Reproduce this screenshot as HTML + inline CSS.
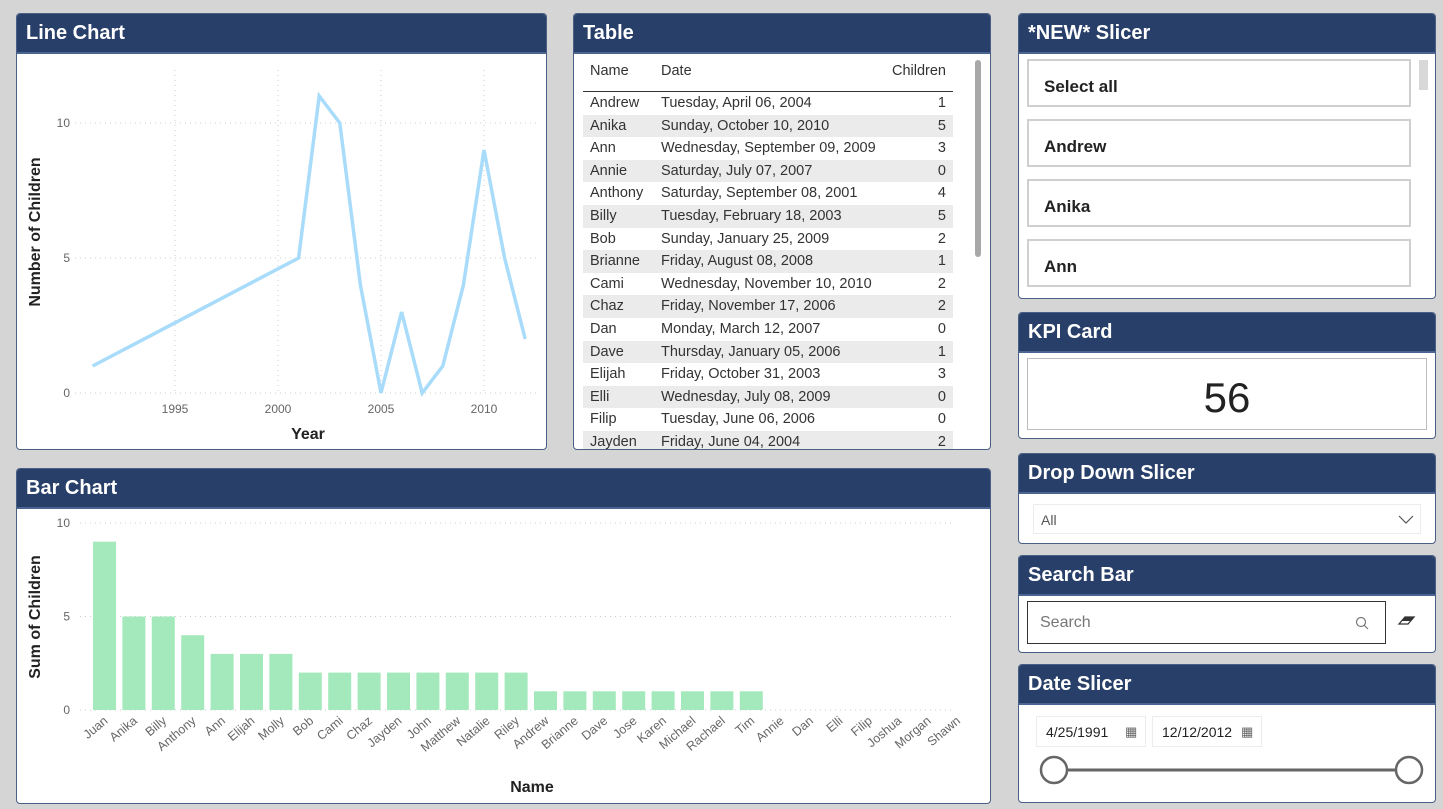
<!DOCTYPE html>
<html><head><meta charset="utf-8"><style>
body{margin:0;width:1443px;height:809px;background:#d5d5d5;font-family:"Liberation Sans",sans-serif;position:relative;overflow:hidden}
.panel{position:absolute;background:#fff;border:1px solid #4a5f85;border-radius:4px;overflow:hidden;box-sizing:border-box}
.hdr{height:38px;background:#283f69;color:#fff;font-weight:bold;font-size:20px;line-height:38px;padding-left:9px;border-bottom:2px solid #4a6592}
.abs{position:absolute}
.tbl{position:absolute;left:9px;top:40px;width:370px;font-size:14.5px;color:#333}
.row{height:22.6px;line-height:22.6px;position:relative}
.row.alt{background:#ebebeb}
.row span{position:absolute;white-space:nowrap}
.item{position:absolute;left:8px;width:384px;height:48px;border:2px solid #cfcfcf;box-sizing:border-box;font-weight:bold;font-size:17px;line-height:52px;padding-left:15px;color:#222}
</style></head><body>

<div class="panel" style="left:16px;top:13px;width:531px;height:437px"><div class="hdr">Line Chart</div></div>
<div class="panel" style="left:573px;top:13px;width:418px;height:437px"><div class="hdr">Table</div>
<div class="tbl" id="tbl">
<div class="row" style="height:37px;line-height:34px;border-bottom:1.5px solid #333;color:#333"><span style="left:7px">Name</span><span style="left:78px">Date</span><span style="right:7px">Children</span></div>
</div>
<div class="abs" style="left:401px;top:46px;width:6px;height:197px;background:#a8a8a8;border-radius:3px"></div>
</div>
<div class="panel" style="left:16px;top:468px;width:975px;height:336px"><div class="hdr">Bar Chart</div></div>

<div class="panel" style="left:1018px;top:13px;width:418px;height:286px"><div class="hdr">*NEW* Slicer</div>
<div class="item" style="top:45px">Select all</div>
<div class="item" style="top:105px">Andrew</div>
<div class="item" style="top:165px">Anika</div>
<div class="item" style="top:225px">Ann</div>
<div class="abs" style="left:400px;top:46px;width:9px;height:30px;background:#d8d8d8"></div>
</div>
<div class="panel" style="left:1018px;top:312px;width:418px;height:127px"><div class="hdr">KPI Card</div>
<div class="abs" style="left:8px;top:45px;width:400px;height:72px;border:1.5px solid #bdbdbd;box-sizing:border-box;text-align:center;font-size:42px;line-height:78px;color:#222">56</div></div>
<div class="panel" style="left:1018px;top:453px;width:418px;height:91px"><div class="hdr">Drop Down Slicer</div>
<div class="abs" style="left:14px;top:50px;width:388px;height:30px;border:1.5px solid #ececec;box-sizing:border-box;font-size:14px;line-height:30px;padding-left:7px;color:#555">All
<svg class="abs" style="left:364px;top:8px" width="16" height="12"><path d="M1 3 L8 10 L15 3" fill="none" stroke="#555" stroke-width="1.2"/></svg></div></div>
<div class="panel" style="left:1018px;top:555px;width:418px;height:98px"><div class="hdr">Search Bar</div>
<div class="abs" style="left:8px;top:45px;width:359px;height:43px;border:1.5px solid #333;box-sizing:border-box;font-size:16px;line-height:42px;padding-left:12px;color:#777">Search
<svg class="abs" style="left:327px;top:14px" width="14" height="14"><circle cx="6" cy="6" r="4.5" fill="none" stroke="#777" stroke-width="1.2"/><path d="M9 9 L13 13" stroke="#777" stroke-width="1.2"/></svg></div>
<svg class="abs" style="left:378px;top:57px" width="20" height="16"><path d="M2 11 L8 4 L17 4 L11 11 Z" fill="none" stroke="#333" stroke-width="1.3"/><path d="M8 4 L17 4 L14 8 L5 8 Z" fill="#333"/></svg></div>
<div class="panel" style="left:1018px;top:664px;width:418px;height:139px"><div class="hdr">Date Slicer</div>
<div class="abs" style="left:17px;top:51px;width:110px;height:31px;border:1.5px solid #ececec;box-sizing:border-box;font-size:14px;line-height:30px;padding-left:9px;color:#222">4/25/1991<span class="abs" style="left:88px;top:0;font-size:13px;color:#666">▦</span></div>
<div class="abs" style="left:133px;top:51px;width:110px;height:31px;border:1.5px solid #ececec;box-sizing:border-box;font-size:14px;line-height:30px;padding-left:9px;color:#222">12/12/2012<span class="abs" style="left:88px;top:0;font-size:13px;color:#666">▦</span></div>
<svg class="abs" style="left:0;top:80px" width="418" height="50"><line x1="35" y1="25" x2="390" y2="25" stroke="#666" stroke-width="3"/><circle cx="35" cy="25" r="13" fill="#fff" stroke="#666" stroke-width="2.5"/><circle cx="390" cy="25" r="13" fill="#fff" stroke="#666" stroke-width="2.5"/></svg></div>

<svg id="charts" class="abs" style="left:0;top:0" width="1443" height="809" font-family="Liberation Sans, sans-serif"></svg>

<script>
const lineYears=[1991,2001,2002,2003,2004,2005,2006,2007,2008,2009,2010,2011,2012];
const lineValues=[1,5,11,10,4,0,3,0,1,4,9,5,2];
const lineXTicks=[1995,2000,2005,2010];
const lineYTicks=[0,5,10];
const barNames=["Juan","Anika","Billy","Anthony","Ann","Elijah","Molly","Bob","Cami","Chaz","Jayden","John","Matthew","Natalie","Riley","Andrew","Brianne","Dave","Jose","Karen","Michael","Rachael","Tim","Annie","Dan","Elli","Filip","Joshua","Morgan","Shawn"];
const barValues=[9,5,5,4,3,3,3,2,2,2,2,2,2,2,2,1,1,1,1,1,1,1,1,0,0,0,0,0,0,0];
const barYTicks=[0,5,10];
const tblNames=["Andrew","Anika","Ann","Annie","Anthony","Billy","Bob","Brianne","Cami","Chaz","Dan","Dave","Elijah","Elli","Filip","Jayden"];
const tblDates=["Tuesday, April 06, 2004","Sunday, October 10, 2010","Wednesday, September 09, 2009","Saturday, July 07, 2007","Saturday, September 08, 2001","Tuesday, February 18, 2003","Sunday, January 25, 2009","Friday, August 08, 2008","Wednesday, November 10, 2010","Friday, November 17, 2006","Monday, March 12, 2007","Thursday, January 05, 2006","Friday, October 31, 2003","Wednesday, July 08, 2009","Tuesday, June 06, 2006","Friday, June 04, 2004"];
const tblChildren=[1,5,3,0,4,5,2,1,2,2,0,1,3,0,0,2];

const NS="http://www.w3.org/2000/svg";
const svg=document.getElementById('charts');
function mk(tag,attrs,parent){const e=document.createElementNS(NS,tag);for(const k in attrs)e.setAttribute(k,attrs[k]);(parent||svg).appendChild(e);return e;}

// table
const tbl=document.getElementById('tbl');
tblNames.forEach((n,i)=>{
  const r=document.createElement('div');r.className='row'+(i%2?' alt':'');
  
  
  r.innerHTML='<span style="left:7px">'+n+'</span><span style="left:78px">'+tblDates[i]+'</span><span style="right:7px">'+tblChildren[i]+'</span>';
  tbl.appendChild(r);
});
tbl.style.height='402px';tbl.style.overflow='hidden';

// line chart
const lx=y=>175+(y-1995)*20.6, ly=v=>393-27*v;
lineYTicks.forEach(t=>{
  const g=mk('line',{x1:75,x2:537,y1:ly(t),y2:ly(t),stroke:'#ccc','stroke-dasharray':'1 4'});
  
  
  const tx=mk('text',{x:70,y:ly(t)+4,'text-anchor':'end','font-size':12,fill:'#666'});tx.textContent=t;
  
  
});
lineXTicks.forEach(t=>{
  const g=mk('line',{x1:lx(t),x2:lx(t),y1:70,y2:393,stroke:'#ccc','stroke-dasharray':'1 4'});
  
  
  const tx=mk('text',{x:lx(t),y:413,'text-anchor':'middle','font-size':12,fill:'#666'});tx.textContent=t;
  
  
});
const pl=mk('polyline',{points:lineYears.map((y,i)=>lx(y)+','+ly(lineValues[i])).join(' '),fill:'none',stroke:'#a8dcfa','stroke-width':3.5,'stroke-linejoin':'miter'});


let t1=mk('text',{x:308,y:439,'text-anchor':'middle','font-size':16,'font-weight':'bold',fill:'#222'});t1.textContent='Year';


let t2=mk('text',{x:0,y:0,'text-anchor':'middle','font-size':16,'font-weight':'bold',fill:'#222',transform:'translate(40,232) rotate(-90)'});t2.textContent='Number of Children';



// bar chart
const bx=i=>104.5+i*29.4, by=v=>710-18.7*v;
barYTicks.forEach(t=>{
  const g=mk('line',{x1:80,x2:955,y1:by(t),y2:by(t),stroke:'#ccc','stroke-dasharray':'1 4'});
  
  
  const tx=mk('text',{x:70,y:by(t)+4,'text-anchor':'end','font-size':12,fill:'#666'});tx.textContent=t;
  
  
});
barNames.forEach((n,i)=>{
  if(barValues[i]>0){
    const r=mk('rect',{x:bx(i)-11.5,y:by(barValues[i]),width:23,height:by(0)-by(barValues[i]),fill:'#a3e9bb'});
    
    
  }
  const tx=mk('text',{x:0,y:0,'text-anchor':'end','font-size':12.5,fill:'#666',transform:'translate('+(bx(i)+4)+',722) rotate(-40)'});tx.textContent=n;
  
  
});
let t3=mk('text',{x:532,y:792,'text-anchor':'middle','font-size':16,'font-weight':'bold',fill:'#222'});t3.textContent='Name';


let t4=mk('text',{x:0,y:0,'text-anchor':'middle','font-size':16,'font-weight':'bold',fill:'#222',transform:'translate(40,617) rotate(-90)'});t4.textContent='Sum of Children';


</script>
</body></html>
